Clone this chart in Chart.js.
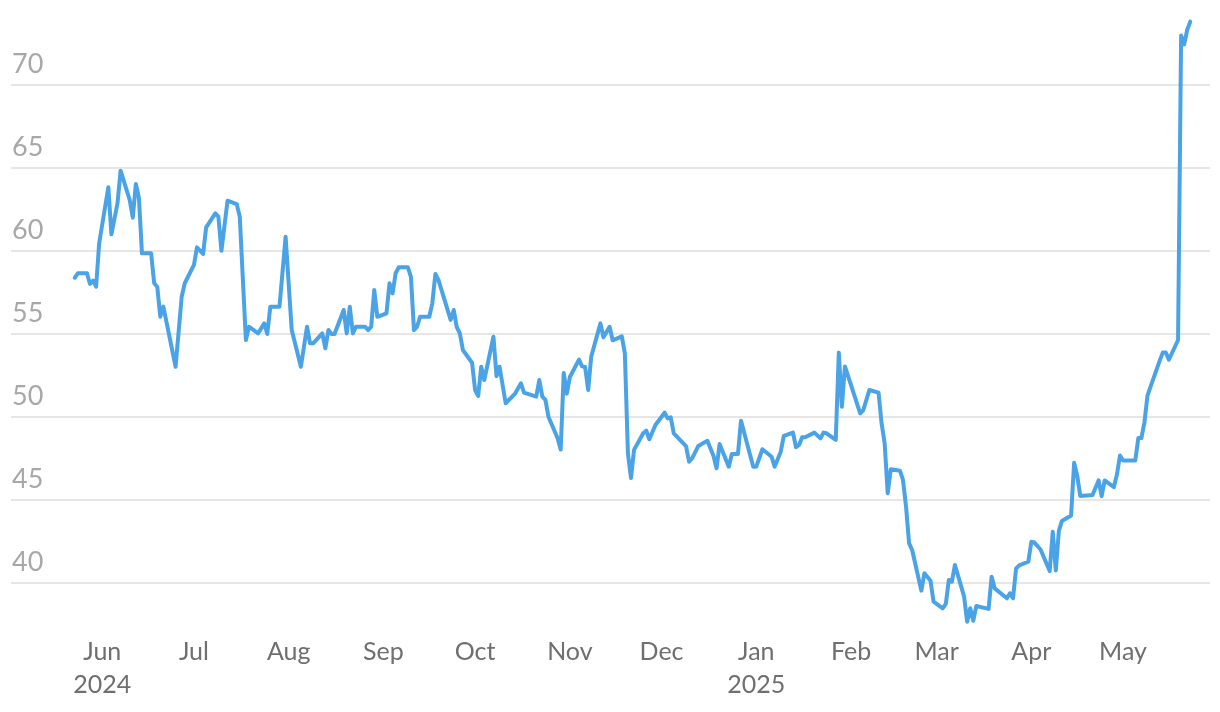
<!DOCTYPE html>
<html>
<head>
<meta charset="utf-8">
<script src="https://cdn.jsdelivr.net/npm/chart.js@4"></script>
<style>
  html, body { margin: 0; padding: 0; background: #fff; }
  #wrap { width: 1220px; height: 712px; }
</style>
</head>
<body>
<div id="wrap"><canvas id="chart"></canvas></div>
<script>
// -------------------- DATA --------------------
const dates = [
  '2024-05-23','2024-05-24','2024-05-27','2024-05-28','2024-05-29','2024-05-30','2024-05-31',
  '2024-06-03','2024-06-04','2024-06-06','2024-06-07','2024-06-10','2024-06-11','2024-06-12',
  '2024-06-13','2024-06-14','2024-06-17','2024-06-18','2024-06-19','2024-06-20','2024-06-21',
  '2024-06-25','2024-06-27','2024-06-28','2024-07-01','2024-07-02','2024-07-04','2024-07-05',
  '2024-07-08','2024-07-09','2024-07-10','2024-07-12','2024-07-15','2024-07-16','2024-07-18',
  '2024-07-19','2024-07-22','2024-07-24','2024-07-25','2024-07-26','2024-07-29','2024-07-31',
  '2024-08-02','2024-08-05','2024-08-07','2024-08-08','2024-08-09','2024-08-12','2024-08-13',
  '2024-08-14','2024-08-15','2024-08-16','2024-08-19','2024-08-20','2024-08-21','2024-08-22',
  '2024-08-23','2024-08-26','2024-08-27','2024-08-28','2024-08-29','2024-08-30','2024-09-02',
  '2024-09-03','2024-09-04','2024-09-05','2024-09-06','2024-09-09','2024-09-10','2024-09-11',
  '2024-09-12','2024-09-13','2024-09-16','2024-09-17','2024-09-18','2024-09-19','2024-09-23',
  '2024-09-24','2024-09-25','2024-09-26','2024-09-27','2024-09-30','2024-10-01','2024-10-02',
  '2024-10-03','2024-10-04','2024-10-07','2024-10-08','2024-10-09','2024-10-11','2024-10-14',
  '2024-10-16','2024-10-17','2024-10-21','2024-10-22','2024-10-23','2024-10-24','2024-10-25',
  '2024-10-28','2024-10-29','2024-10-30','2024-10-31','2024-11-01','2024-11-04','2024-11-05',
  '2024-11-06','2024-11-07','2024-11-08','2024-11-11','2024-11-12','2024-11-14','2024-11-15',
  '2024-11-18','2024-11-19','2024-11-20','2024-11-21','2024-11-22','2024-11-25','2024-11-26',
  '2024-11-27','2024-11-29','2024-12-02','2024-12-03','2024-12-04','2024-12-05','2024-12-09',
  '2024-12-10','2024-12-11','2024-12-13','2024-12-16','2024-12-18','2024-12-19','2024-12-20',
  '2024-12-23','2024-12-24','2024-12-26','2024-12-27','2024-12-31','2025-01-01','2025-01-03',
  '2025-01-06','2025-01-07','2025-01-09','2025-01-10','2025-01-13','2025-01-14','2025-01-15',
  '2025-01-16','2025-01-17','2025-01-20','2025-01-22','2025-01-23','2025-01-24','2025-01-27',
  '2025-01-28','2025-01-29','2025-01-30','2025-02-04','2025-02-05','2025-02-07','2025-02-10',
  '2025-02-11','2025-02-12','2025-02-13','2025-02-14','2025-02-17','2025-02-18','2025-02-19',
  '2025-02-20','2025-02-21','2025-02-24','2025-02-25','2025-02-27','2025-02-28','2025-03-03',
  '2025-03-04','2025-03-05','2025-03-06','2025-03-07','2025-03-10','2025-03-11','2025-03-12',
  '2025-03-13','2025-03-14','2025-03-18','2025-03-19','2025-03-20','2025-03-24','2025-03-25',
  '2025-03-26','2025-03-27','2025-03-28','2025-03-31','2025-04-01','2025-04-02','2025-04-04',
  '2025-04-07','2025-04-08','2025-04-09','2025-04-10','2025-04-11','2025-04-14','2025-04-15',
  '2025-04-16','2025-04-17','2025-04-21','2025-04-23','2025-04-24','2025-04-25','2025-04-28',
  '2025-04-29','2025-04-30','2025-05-01','2025-05-05','2025-05-06','2025-05-07','2025-05-08',
  '2025-05-09','2025-05-13','2025-05-14','2025-05-15','2025-05-16','2025-05-19','2025-05-20',
  '2025-05-21','2025-05-22','2025-05-23'
];

const valores = [
  58.37, 58.64, 58.64, 58.00, 58.20, 57.83, 60.45,
  63.82, 60.99, 62.86, 64.82, 63.05, 61.99, 64.02,
  63.19, 59.84, 59.84, 58.04, 57.83, 56.02, 56.63,
  53.01, 57.23, 58.04, 59.14, 60.20, 59.80, 61.41,
  62.25, 62.05, 60.00, 63.01, 62.81, 62.05, 54.62,
  55.42, 55.02, 55.62, 54.98, 56.63, 56.63, 60.84,
  55.22, 53.01, 55.42, 54.42, 54.42, 55.02, 54.12,
  55.22, 54.98, 54.98, 56.43, 55.02, 56.63, 55.02,
  55.42, 55.42, 55.22, 55.42, 57.63, 56.02, 56.23,
  58.04, 57.43, 58.64, 59.00, 59.00, 58.43, 55.22,
  55.42, 56.02, 56.02, 56.83, 58.60, 58.24, 55.83,
  56.43, 55.40, 55.02, 54.02, 53.25, 51.61, 51.25,
  53.01, 52.21, 54.82, 52.45, 53.01, 50.81, 51.37,
  52.01, 51.45, 51.21, 52.21, 51.21, 51.01, 50.00,
  48.70, 48.02, 52.63, 51.39, 52.39, 53.44, 53.03,
  52.99, 51.61, 53.63, 55.62, 54.78, 55.42, 54.60,
  54.84, 53.82, 47.80, 46.30, 48.00, 49.00, 49.16,
  48.64, 49.50, 50.24, 49.90, 49.96, 49.00, 48.23,
  47.29, 47.49, 48.23, 48.55, 47.63, 46.89, 48.36,
  46.99, 47.75, 47.75, 49.76, 46.99, 46.99, 48.04,
  47.59, 46.99, 47.89, 48.84, 49.04, 48.16, 48.30,
  48.76, 48.76, 49.04, 48.70, 49.04, 49.00, 48.60,
  53.86, 50.60, 53.03, 50.20, 50.40, 51.61, 51.45,
  49.60, 48.40, 45.39, 46.83, 46.75, 46.19, 44.58,
  42.37, 41.97, 39.52, 40.57, 40.12, 38.86, 38.46,
  38.72, 40.16, 40.06, 41.07, 39.16, 37.65, 38.46,
  37.71, 38.60, 38.42, 40.36, 39.66, 39.06, 39.36,
  39.06, 40.85, 41.05, 41.27, 42.47, 42.42, 42.00,
  40.70, 43.07, 40.74, 43.12, 43.72, 44.05, 47.23,
  46.45, 45.23, 45.28, 46.16, 45.21, 46.16, 45.76,
  46.52, 47.66, 47.36, 47.36, 48.71, 48.71, 49.66,
  51.28, 53.38, 53.86, 53.86, 53.43, 54.62, 72.96,
  72.43, 73.31, 73.80
];

// rótulos do eixo X (início de cada mês)
const mesesDatas = [
  '2024-06-01','2024-07-01','2024-08-01','2024-09-01','2024-10-01','2024-11-01',
  '2024-12-01','2025-01-01','2025-02-01','2025-03-01','2025-04-01','2025-05-01'
];
const mesesRotulos = [
  ['Jun', '2024'], 'Jul', 'Aug', 'Sep', 'Oct', 'Nov',
  'Dec', ['Jan', '2025'], 'Feb', 'Mar', 'Apr', 'May'
];

const yTicks = [40, 45, 50, 55, 60, 65, 70];

// -------------------- HELPERS --------------------
const DIA_ZERO = Date.UTC(2024, 5, 1);
function diaDe(str) {
  return (new Date(str + 'T00:00:00Z').getTime() - DIA_ZERO) / 86400000;
}

const pontos = dates.map((d, i) => ({ x: diaDe(d), y: valores[i] }));
const mesesDias = mesesDatas.map(diaDe);

// -------------------- GRÁFICO --------------------
const ctx = document.getElementById('chart').getContext('2d');

new Chart(ctx, {
  type: 'line',
  data: {
    datasets: [{
      data: pontos,
      borderColor: '#4aa3e6',
      borderWidth: 4,
      pointRadius: 0,
      tension: 0,
      fill: false,
      borderJoinStyle: 'round',
      borderCapStyle: 'round',
      clip: false
    }]
  },
  options: {
    responsive: true,
    maintainAspectRatio: false,
    animation: false,
    layout: { padding: { left: 9, right: 10, top: 20, bottom: 0 } },
    plugins: {
      legend: { display: false },
      tooltip: { enabled: false }
    },
    scales: {
      x: {
        type: 'linear',
        min: -29.85,
        max: 362.45,
        grid: { display: false },
        border: { display: false },
        afterBuildTicks: axis => {
          axis.ticks = mesesDias.map(v => ({ value: v }));
        },
        afterFit: axis => { axis.height = 92; },
        ticks: {
          autoSkip: false,
          maxRotation: 0,
          padding: 7,
          color: '#6f6f6f',
          font: { family: 'Lato', size: 25, lineHeight: 1.34 },
          callback: (value, index) => mesesRotulos[index]
        }
      },
      y: {
        min: 70 - (620 - 84.7) / 16.6,
        max: 70 + (84.7 - 20) / 16.6,
        grid: { color: '#e6e6e6', lineWidth: 2, drawTicks: false },
        border: { display: false },
        afterBuildTicks: axis => {
          axis.ticks = yTicks.map(v => ({ value: v }));
        },
        ticks: {
          mirror: true,
          padding: 1,
          labelOffset: -20,
          color: '#a8a8a8',
          font: { family: 'Lato', size: 27 }
        }
      }
    }
  }
});
</script>
</body>
</html>
